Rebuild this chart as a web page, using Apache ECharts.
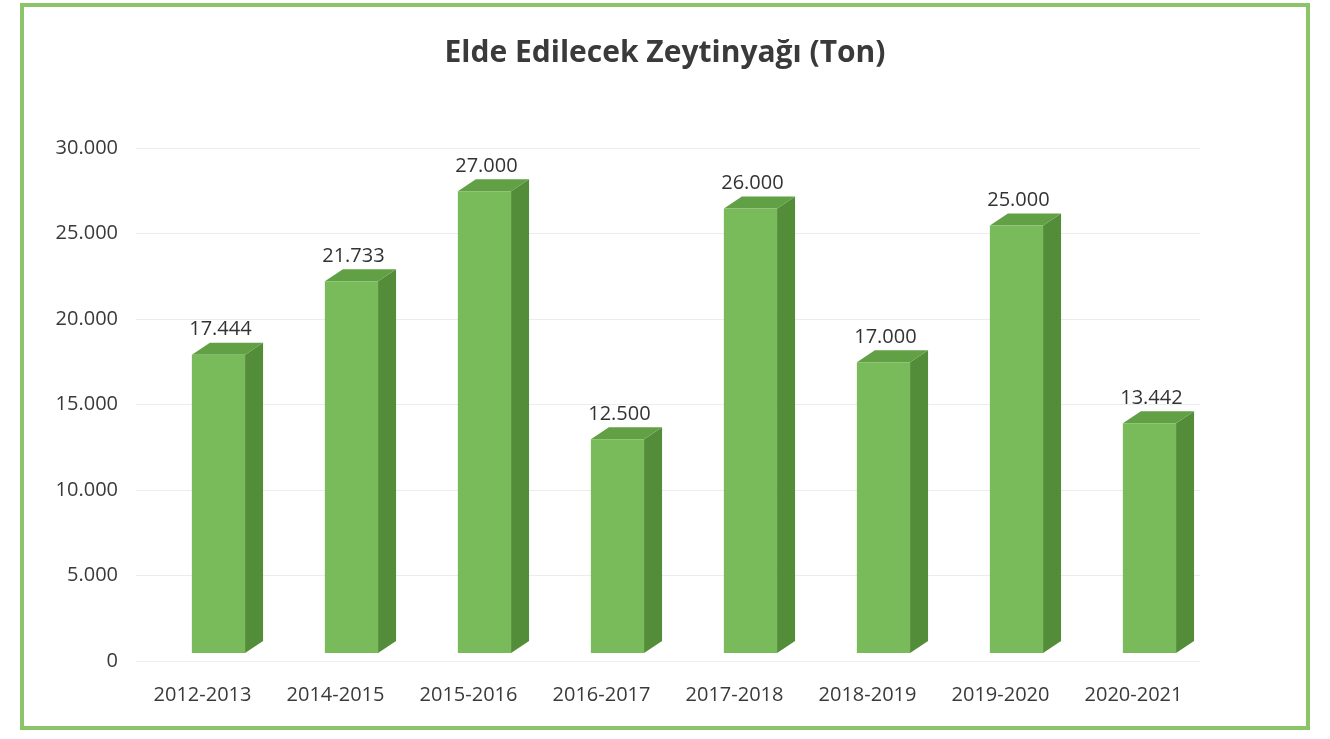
<!DOCTYPE html>
<html>
<head>
<meta charset="utf-8">
<title>Elde Edilecek Zeytinyağı</title>
<script src="https://cdn.jsdelivr.net/npm/echarts@6/dist/echarts.min.js"></script>
<style>
  html, body { margin: 0; padding: 0; background: #fff; }
  #chart { width: 1330px; height: 739px; }
</style>
</head>
<body>
<div id="chart"></div>
<script>
// sezonlar ve rekolte (ton)
const seasons = ['2012-2013', '2014-2015', '2015-2016', '2016-2017', '2017-2018', '2018-2019', '2019-2020', '2020-2021'];
const tons = [17444, 21733, 27000, 12500, 26000, 17000, 25000, 13442];
const yTicks = [0, 5000, 10000, 15000, 20000, 25000, 30000];

const frontColor = '#79ba5a';
const sideColor = '#548d3a';
const topColor = '#62a045';

// 17444 -> "17.444"
function trNum (v) {
  return String(v).replace(/\B(?=(\d{3})+(?!\d))/g, '.');
}

function renderBar (params, api) {
  const idx = api.value(0);
  const val = api.value(1);
  const top = api.coord([idx, val]);
  const base = api.coord([idx, 0]);
  const band = api.size([1, 0])[0];
  const w = band * 0.4;
  const shiftX = band * 0.12;
  const shiftY = -8;
  const dx = 18, dy = -12;
  const x0 = top[0] + shiftX - w / 2;
  const x1 = x0 + w;
  const yt = top[1] + shiftY;
  const yb = base[1] + shiftY;
  return {
    type: 'group',
    children: [
      {
        type: 'polygon',
        shape: { points: [[x1, yt], [x1 + dx, yt + dy], [x1 + dx, yb + dy], [x1, yb]] },
        style: { fill: sideColor }
      },
      {
        type: 'polygon',
        shape: { points: [[x0, yt], [x0 + dx, yt + dy], [x1 + dx, yt + dy], [x1, yt]] },
        style: { fill: topColor }
      },
      {
        type: 'rect',
        shape: { x: x0, y: yt, width: w, height: yb - yt },
        style: { fill: frontColor }
      },
      {
        type: 'text',
        style: {
          text: trNum(val),
          x: (x0 + x1) / 2 + 2,
          y: yt + dy - 3,
          align: 'center',
          verticalAlign: 'bottom',
          fill: '#333',
          font: '20px "Open Sans", sans-serif'
        }
      }
    ]
  };
}

const chart = echarts.init(document.getElementById('chart'));
const option = {
  backgroundColor: '#fff',
  animation: false,
  title: {
    text: 'Elde Edilecek Zeytinyağı (Ton)',
    left: 'center',
    top: 33,
    textStyle: {
      fontFamily: '"Open Sans", sans-serif',
      fontWeight: 'bold',
      fontSize: 30,
      color: '#3a3a3a'
    }
  },
  graphic: [{
    type: 'rect',
    shape: { x: 22, y: 5, width: 1286, height: 723 },
    style: { fill: 'none', stroke: '#8cc46a', lineWidth: 4 }
  }],
  grid: {
    left: 136,
    right: 130,
    top: 148,
    bottom: 78
  },
  xAxis: {
    type: 'category',
    data: seasons,
    axisLine: { show: false },
    axisTick: { show: false },
    axisLabel: {
      margin: 24,
      fontSize: 20,
      color: '#3a3a3a',
      fontFamily: '"Open Sans", sans-serif'
    }
  },
  yAxis: {
    type: 'value',
    min: yTicks[0],
    max: yTicks[yTicks.length - 1],
    interval: 5000,
    axisLine: { show: false },
    axisTick: { show: false },
    splitLine: { lineStyle: { color: '#ececec', width: 1 } },
    axisLabel: {
      margin: 18,
      fontSize: 20,
      color: '#3a3a3a',
      fontFamily: '"Open Sans", sans-serif',
      formatter: trNum
    }
  },
  series: [{
    type: 'custom',
    renderItem: renderBar,
    encode: { x: 0, y: 1 },
    data: tons.map((v, i) => [i, v])
  }]
};
chart.setOption(option);
</script>
</body>
</html>
